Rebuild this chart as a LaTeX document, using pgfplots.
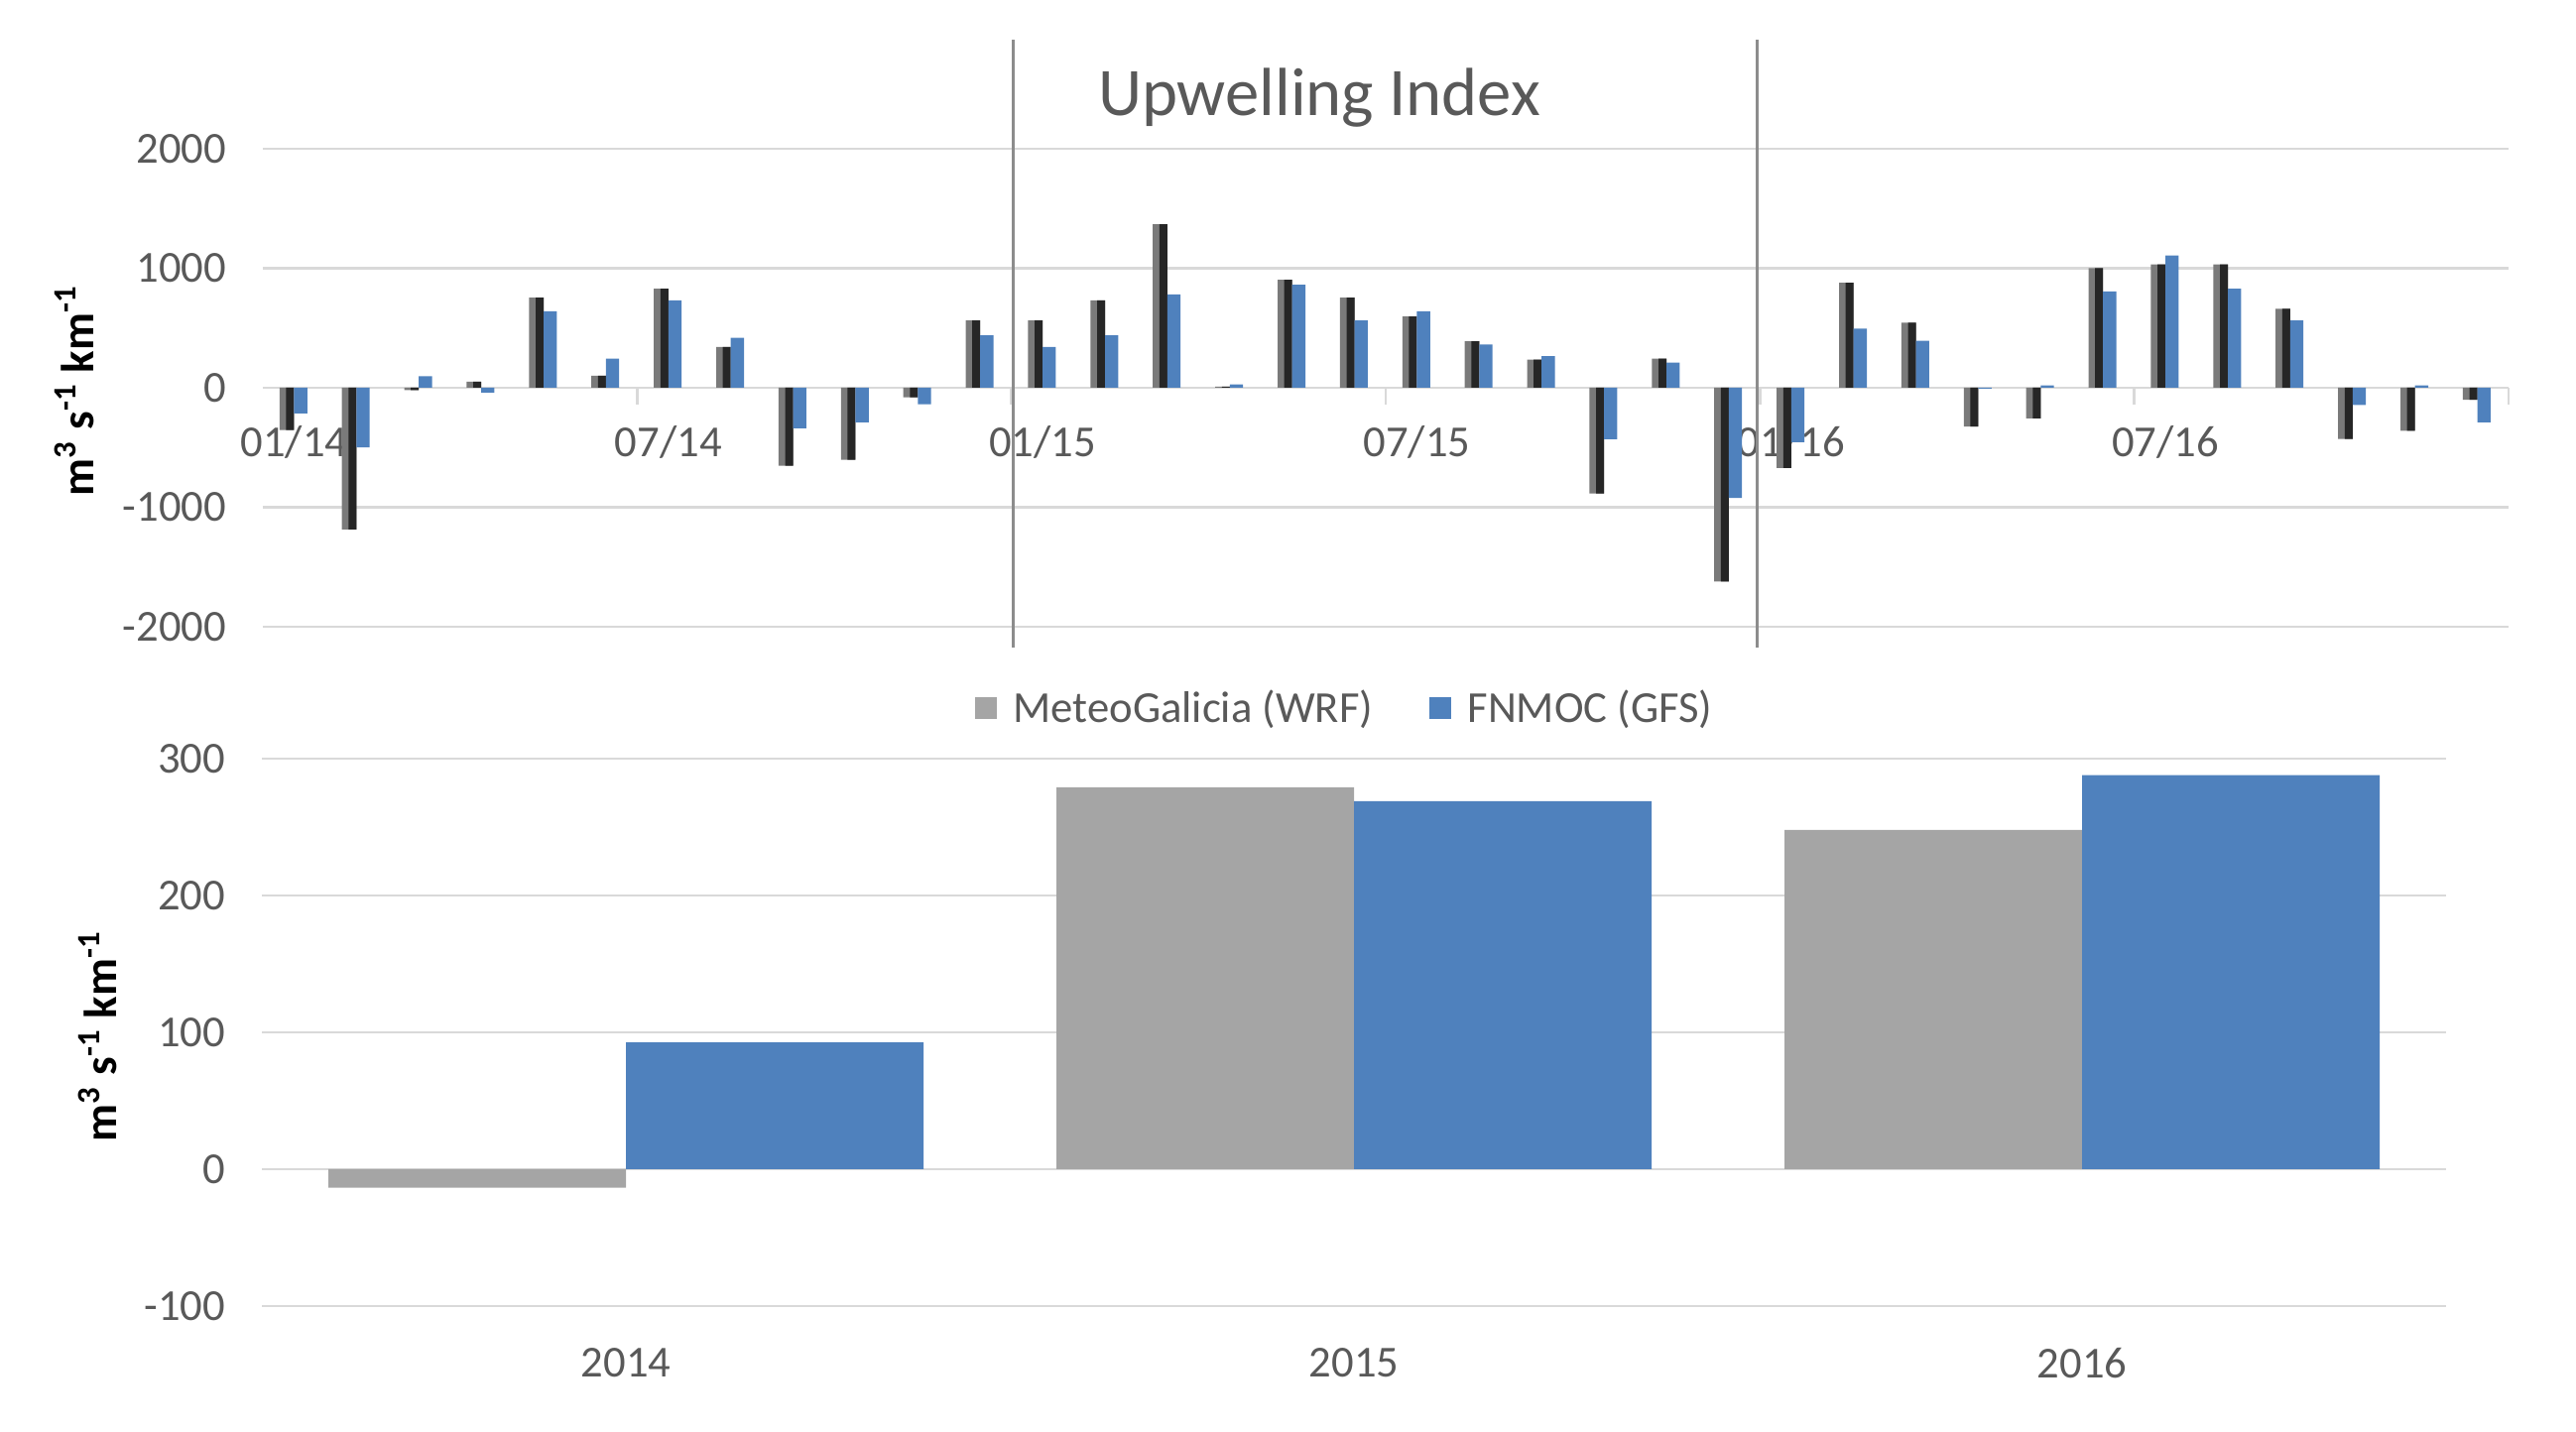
\documentclass[border=0pt]{standalone}
\usepackage{pgfplots}
\pgfplotsset{compat=1.18}
\usepackage{pgfplotstable}
\usepackage{fontspec}
\setmainfont{Carlito}

\definecolor{wrfgray}{HTML}{A5A5A5}
\definecolor{gfsblue}{HTML}{4F81BD}
\definecolor{gridgray}{HTML}{D9D9D9}
\definecolor{txtgray}{HTML}{595959}
\definecolor{sepgray}{HTML}{8C8C8C}
\definecolor{darkleft}{HTML}{7A7A7A}
\definecolor{darkright}{HTML}{262626}

% monthly upwelling index, 01/2014 .. 12/2016
\pgfplotstableread{
m  wrf   gfs
0  -353  -214
1  -1186 -500
2  -20   97
3  50    -40
4  753   639
5  100   244
6  828   731
7  342   417
8  -653  -339
9  -603  -289
10 -80   -139
11 564   439
12 564   342
13 731   439
14 1369  781
15 10    28
16 903   861
17 753   564
18 597   639
19 389   361
20 236   264
21 -886  -431
22 244   211
23 -1622 -922
24 -672  -456
25 878   494
26 544   392
27 -325  -8
28 -256  20
29 1000  806
30 1031  1106
31 1031  828
32 661   564
33 -428  -144
34 -361  20
35 -100  -289
}\monthly

\begin{document}
\begin{tikzpicture}
\path (0,0) rectangle (779.1pt,433.2pt);
\pgfplotsset{every axis/.append style={
  scale only axis, anchor=south west,
  font=\fontsize{13.4}{15}\selectfont,
  tick label style={text=txtgray},
  /pgf/number format/assume math mode=true,
  /pgf/number format/1000 sep={},
  grid style={gridgray, line width=0.8pt},
  ymajorgrids,
  clip=false,
}}

% top: monthly values
\begin{axis}[at={(79.5pt,243.6pt)}, width=679.2pt, height=144.6pt,
  xmin=-0.5, xmax=35.5, ymin=-2000, ymax=2000,
  axis x line*=middle, axis y line*=left,
  hide obscured x ticks=false, hide obscured y ticks=false,
  x axis line style={gridgray, line width=0.8pt},
  y axis line style={draw=none},
  ytick={-2000,-1000,0,1000,2000},
  ytick style={draw=none},
  xtick={0,6,...,30}, xticklabels={01/14,07/14,01/15,07/15,01/16,07/16},
  xtick style={gridgray, line width=0.8pt},
  major tick length=0pt,
  extra x ticks={5.5,11.5,...,35.5}, extra x tick labels={},
  extra x tick style={major tick length=5pt, tick align=outside},
  xticklabel style={yshift=-8pt},
  yticklabel style={xshift=-7.5pt},
]
% WRF bars: grey left half, black right half
\addplot[ybar, bar width=4.4pt, bar shift=-2.2pt, draw=none, fill=darkleft]
  table[x=m, y=wrf] \monthly;
\addplot[ybar, bar width=2.4pt, bar shift=-1.2pt, draw=none, fill=darkright]
  table[x=m, y=wrf] \monthly;
\addplot[ybar, bar width=4pt, bar shift=2pt, draw=none, fill=gfsblue]
  table[x=m, y=gfs] \monthly;
\addplot[sepgray, line width=0.8pt] coordinates {(11.53,-2171) (11.53,2912)};
\addplot[sepgray, line width=0.8pt] coordinates {(23.45,-2171) (23.45,2912)};
\end{axis}

% bottom: annual means
\begin{axis}[at={(79.2pt,38.1pt)}, width=660.6pt, height=165.6pt,
  xmin=-0.5, xmax=2.5, ymin=-100, ymax=300,
  ytick={-100,0,100,200,300},
  axis line style={draw=none}, tick style={draw=none},
  xtick={0,1,2}, xticklabels={2014,2015,2016},
  xticklabel style={yshift=-5pt},
  yticklabel style={xshift=-7.5pt},
  ybar, bar width=90pt,
  legend columns=2,
  legend style={at={(0.4968,1.092)}, anchor=center, draw=none, fill=none,
    text=txtgray, font=\fontsize{13.4}{15}\selectfont,
    /tikz/every odd column/.append style={column sep=3pt},
    /tikz/every even column/.append style={column sep=15pt}},
  legend image code/.code={\fill[#1] (0pt,-3.3pt) rectangle (6.6pt,3.3pt);},
]
\addplot[fill=wrfgray, draw=none, bar shift=-45pt] coordinates {(0,-13.5) (1,279) (2,248)};
\addplot[fill=gfsblue, draw=none, bar shift=45pt] coordinates {(0,92.7) (1,269) (2,288)};
\legend{MeteoGalicia (WRF), FNMOC (GFS)}
\end{axis}

\node[text=txtgray, font=\fontsize{20.6}{24}\selectfont] at (399pt,403.5pt) {Upwelling Index};
\node[rotate=90, font=\bfseries\fontsize{14}{16}\selectfont] at (22.5pt,315pt)
  {m\textsuperscript{3} s\textsuperscript{-1} km\textsuperscript{-1}};
\node[rotate=90, font=\bfseries\fontsize{14}{16}\selectfont] at (29.5pt,119.7pt)
  {m\textsuperscript{3} s\textsuperscript{-1} km\textsuperscript{-1}};
\end{tikzpicture}
\end{document}
